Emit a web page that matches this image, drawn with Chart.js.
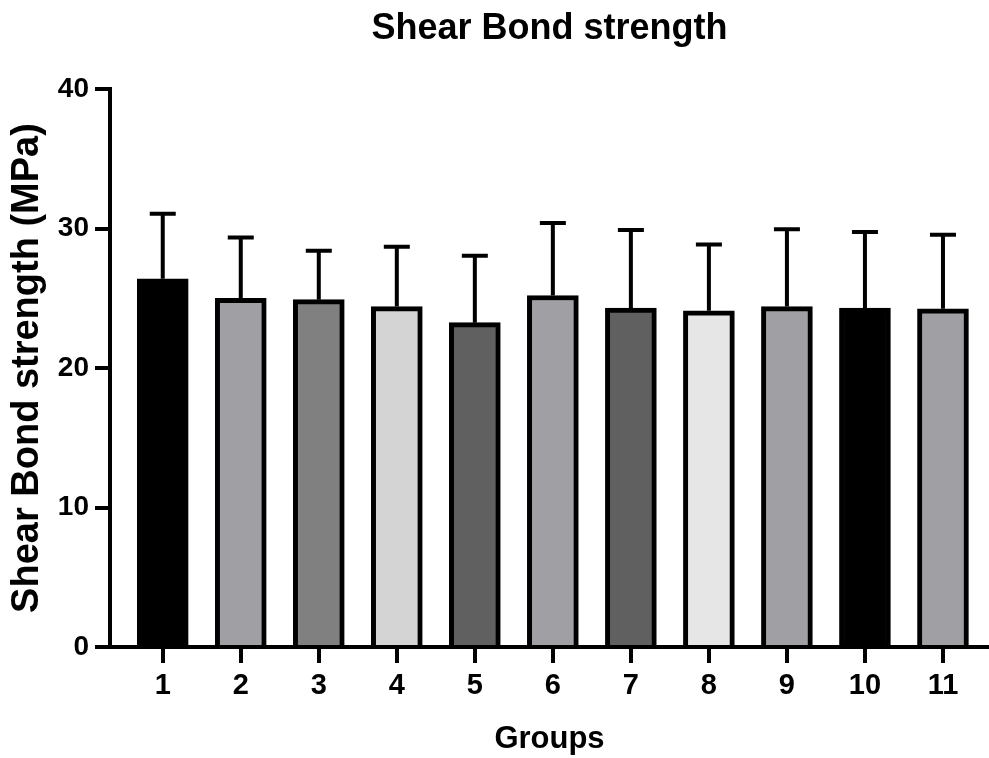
<!DOCTYPE html>
<html>
<head>
<meta charset="utf-8">
<title>Shear Bond strength</title>
<script src="https://cdn.jsdelivr.net/npm/chart.js@4.4.1/dist/chart.umd.min.js"></script>
<style>
    html, body { margin: 0; padding: 0; background: #fff; }
    #wrap { width: 989px; height: 758px; position: relative; }
</style>
</head>
<body>
<div id="wrap"><canvas id="shearChart"></canvas></div>
<script>
// Group numbers, means and SDs (MPa)
const groups = [1, 2, 3, 4, 5, 6, 7, 8, 9, 10, 11];
const means = [26.4, 25.0, 24.9, 24.4, 23.25, 25.2, 24.3, 24.1, 24.4, 24.3, 24.25];
const sds = [4.65, 4.35, 3.5, 4.3, 4.8, 5.2, 5.6, 4.75, 5.55, 5.45, 5.3];
const barColors = ['#000000', '#a0a0a4', '#808080', '#d4d4d4', '#606060', '#a0a0a4',
                   '#606060', '#e6e6e6', '#a0a0a4', '#000000', '#a0a0a4'];
const yTicks = [0, 10, 20, 30, 40];

const FONT = '"Liberation Sans", Arial, Helvetica, sans-serif';
const X_MIN = 0.324, X_MAX = 11.59;

// Upper error bars (mean + SD), drawn from the bar top,
// plus the short tick marks under the x axis at each group
const errorBars = {
    id: 'errorBars',
    afterDatasetsDraw(chart) {
        const ctx = chart.ctx;
        const x = chart.scales.x;
        const y = chart.scales.y;
        const meta = chart.getDatasetMeta(0);
        ctx.save();
        ctx.strokeStyle = '#000';
        ctx.lineWidth = 4;
        meta.data.forEach((bar, i) => {
            const top = y.getPixelForValue(means[i] + sds[i]);
            ctx.beginPath();
            ctx.moveTo(bar.x, bar.y);
            ctx.lineTo(bar.x, top);
            ctx.moveTo(bar.x - 13, top);
            ctx.lineTo(bar.x + 13, top);
            ctx.stroke();
        });
        const axisY = y.getPixelForValue(0);
        groups.forEach(g => {
            const px = Math.round(x.getPixelForValue(g));
            ctx.beginPath();
            ctx.moveTo(px, axisY);
            ctx.lineTo(px, axisY + 16);
            ctx.stroke();
        });
        ctx.restore();
    }
};

new Chart(document.getElementById('shearChart'), {
    type: 'bar',
    data: {
        datasets: [{
            xAxisID: 'x',
            yAxisID: 'y',
            data: groups.map((g, i) => ({ x: g, y: means[i] })),
            backgroundColor: barColors,
            borderColor: '#000',
            borderWidth: 5,
            borderSkipped: 'start',
            barThickness: 51
        }]
    },
    options: {
        responsive: true,
        maintainAspectRatio: false,
        animation: false,
        devicePixelRatio: 1,
        layout: { padding: 0 },
        plugins: {
            legend: { display: false },
            tooltip: { enabled: false },
            title: { display: false }
        },
        scales: {
            x: {
                type: 'linear',
                offset: false,
                min: X_MIN,
                max: X_MAX,
                afterBuildTicks: (scale) => {
                    scale.ticks = groups.map(v => ({ value: v }));
                },
                afterFit: (scale) => { scale.height = 111; },
                border: { display: true, color: '#000', width: 4 },
                grid: {
                    offset: false,
                    drawOnChartArea: false,
                    drawTicks: true,
                    tickLength: 16,
                    tickWidth: 4,
                    lineWidth: 4,
                    color: '#000',
                    tickColor: '#000'
                },
                ticks: {
                    color: '#000',
                    padding: 6,
                    font: { family: FONT, size: 29, weight: 'bold' },
                    callback: (v) => String(v)
                },
                title: {
                    display: true,
                    text: 'Groups',
                    color: '#000',
                    font: { family: FONT, size: 31, weight: 'bold', lineHeight: 1.2 },
                    padding: { top: 0, bottom: 0 }
                }
            },
            // empty top axis: only carries the chart title, centred over the plot area
            xTop: {
                type: 'linear',
                position: 'top',
                offset: false,
                min: X_MIN,
                max: X_MAX,
                afterFit: (scale) => { scale.height = 89; },
                border: { display: false },
                grid: { display: false, drawTicks: false },
                ticks: { display: false },
                title: {
                    display: true,
                    text: 'Shear Bond strength',
                    color: '#000',
                    font: { family: FONT, size: 36, weight: 'bold', lineHeight: 1.2 },
                    padding: { top: 7, bottom: 0 }
                }
            },
            y: {
                min: 0,
                max: 40,
                afterBuildTicks: (scale) => {
                    scale.ticks = yTicks.map(v => ({ value: v }));
                },
                afterFit: (scale) => { scale.width = 110; },
                border: { display: true, color: '#000', width: 4 },
                grid: {
                    drawOnChartArea: false,
                    drawTicks: true,
                    tickLength: 15,
                    tickWidth: 4,
                    lineWidth: 4,
                    color: '#000'
                },
                ticks: {
                    color: '#000',
                    padding: 6,
                    font: { family: FONT, size: 28, weight: 'bold' }
                },
                title: {
                    display: true,
                    text: 'Shear Bond strength (MPa)',
                    color: '#000',
                    font: { family: FONT, size: 38, weight: 'bold', lineHeight: 1.2 },
                    padding: { top: 5, bottom: 0 }
                }
            }
        }
    },
    plugins: [errorBars]
});
</script>
</body>
</html>
